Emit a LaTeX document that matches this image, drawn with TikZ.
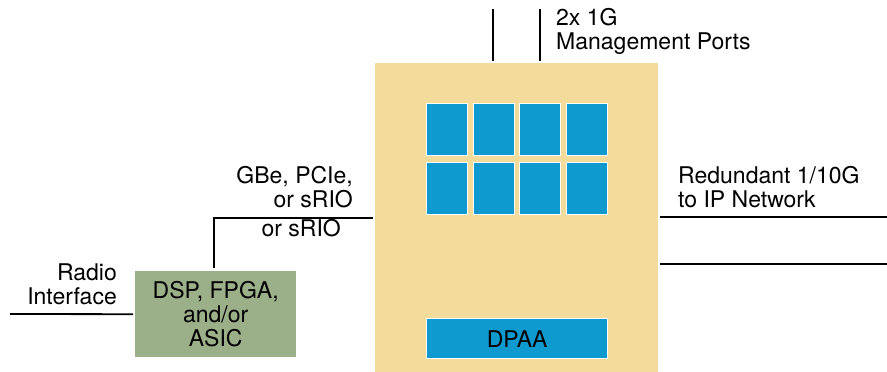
\documentclass[tikz,border=0pt]{standalone}
\usepackage{fontspec}
\setmainfont{TeX Gyre Heros}
\definecolor{socyellow}{HTML}{F3DB9C}
\definecolor{dspgreen}{HTML}{9BAF89}
\definecolor{coreblue}{HTML}{0E9ACE}
\begin{document}
\begin{tikzpicture}[x=1pt,y=-1pt,
  lbl/.style={font=\fontsize{23}{24}\selectfont, inner sep=0pt, text=black},
  core/.style={rectangle, fill=coreblue, draw=white, line width=1.3pt, minimum width=41pt, minimum height=52pt, anchor=north west, inner sep=0pt},
  wire/.style={line width=1.8pt, black}]
\useasboundingbox (0,0) rectangle (887,372);
% SoC body
\node[rectangle, fill=socyellow, minimum width=283pt, minimum height=309pt, inner sep=0pt, anchor=north west] (soc) at (375,63) {};
% cores
\node[core] (c11) at (426,103) {};
\node[core] (c12) at (473,103) {};
\node[core] (c13) at (519,103) {};
\node[core] (c14) at (566,103) {};
\node[core] (c21) at (426,162) {};
\node[core] (c22) at (473,162) {};
\node[core] (c23) at (519,162) {};
\node[core] (c24) at (566,162) {};
\node[core, minimum width=181pt, minimum height=40pt, lbl] (dpaa) at (426,318) {DPAA};
% DSP box
\node[rectangle, fill=dspgreen, minimum width=161pt, minimum height=86pt, inner sep=0pt, anchor=north west, lbl, align=center] (dsp) at (135,271) {DSP, FPGA,\\and/or\\ASIC};
% management ports
\coordinate (m1) at (493,9);
\coordinate (m2) at (540,9);
\draw[wire, shorten >=2pt] (m1) -- (m1 |- soc.north);
\draw[wire, shorten >=2pt] (m2) -- (m2 |- soc.north);
\node[lbl, align=left, anchor=north west] (mgmt) at (556,8.5) {2x 1G\\Management Ports};
% network
\coordinate (n1) at (887,217);
\coordinate (n2) at (887,264);
\draw[wire, shorten <=2pt] (soc.east |- n1) -- (n1);
\draw[wire, shorten <=2pt] (soc.east |- n2) -- (n2);
\node[lbl, align=left, anchor=north west] (net) at (678,166) {Redundant 1/10G\\to IP Network};
% DSP to SoC
\draw[wire, shorten <=3pt, shorten >=2pt] ([xshift=-1.5pt]dsp.north) |- (soc.west);
\node[lbl, align=right, anchor=north east] (gbe) at (353,166.5) {GBe, PCIe,\\or sRIO};
\node[lbl, anchor=north east] (srio) at (341,219.5) {or sRIO};
% radio
\coordinate (r0) at (10,314);
\draw[wire, shorten >=2pt] (r0) -- (dsp.west);
\node[lbl, align=right, anchor=north east] (radio) at (117,263.5) {Radio\\Interface};
\end{tikzpicture}
\end{document}
